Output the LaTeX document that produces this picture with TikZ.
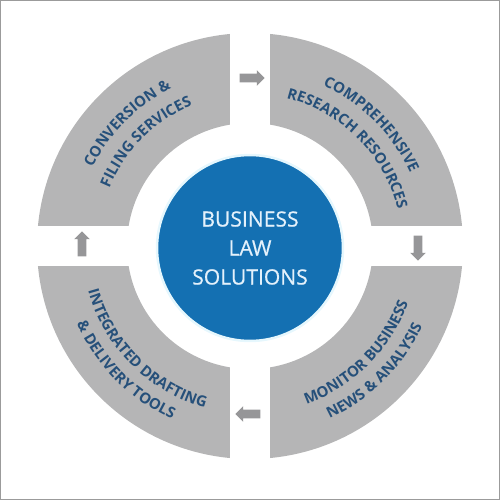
\documentclass[tikz,border=0pt]{standalone}
\usepackage{fontspec}
\setsansfont{Open Sans}
\newfontfamily\hubfont{Open Sans}[FakeBold=0.6]
\usetikzlibrary{decorations.text, shapes.arrows}

\definecolor{lawblue}{RGB}{20,112,178}
\definecolor{hubtext}{RGB}{228,241,251}
\definecolor{ringgray}{RGB}{181,181,182}
\definecolor{arrowgray}{RGB}{150,150,152}
\definecolor{labelblue}{RGB}{38,80,122}
\definecolor{framegray}{RGB}{155,155,155}

\newcommand{\ringfont}{\sffamily\bfseries\fontsize{8.5}{10}\selectfont}

\begin{document}
\begin{tikzpicture}[
  x=0.02cm, y=0.02cm,
  segment/.style={fill=ringgray, draw=none},
  hub/.style={circle, fill=lawblue, draw=cyan!10, line width=0.05cm, minimum size=3.72cm, align=center, text=hubtext, font=\hubfont\fontsize{12}{16.5}\selectfont},
  flow/.style={single arrow, fill=arrowgray, draw=none, minimum height=0.5cm, inner xsep=0pt, inner ysep=0.08cm, single arrow head extend=0.07cm},
  arctext/.style={decorate, decoration={text along path, text align=center, text color=labelblue, text={|\ringfont|#1}}},
]
  \useasboundingbox (-250,-254) rectangle (250,246);
  \draw[framegray, line width=0.03cm] (-249.25,-253.25) rectangle (249.25,245.25);

  % ring segments
  \foreach \a in {0,90,180,270}
    \fill[segment, rotate=\a] (5.39:213) arc[start angle=5.39, end angle=84.61, radius=213]
      -- (80.64:123) arc[start angle=80.64, end angle=9.36, radius=123] -- cycle;

  \node[hub] (core) at (0,-2) {BUSINESS\\LAW\\SOLUTIONS};

  % arrows in the gaps
  \foreach \a/\n in {90/top, 0/right, 270/bottom, 180/left}
    \node[flow, rotate=\a-90] (arrow-\n) at (\a:168) {};

  % labels on the ring
  \path[arctext={CONVERSION {\&}}] (180:176) arc[start angle=180, end angle=90, radius=176];
  \path[arctext={FILING SERVICES}] (180:152) arc[start angle=180, end angle=90, radius=152];
  \path[arctext={COMPREHENSIVE}] (90:176) arc[start angle=90, end angle=0, radius=176];
  \path[arctext={RESEARCH RESOURCES}] (90:152) arc[start angle=90, end angle=0, radius=152];
  \path[arctext={MONITOR BUSINESS}] (270:168) arc[start angle=270, end angle=360, radius=168];
  \path[arctext={NEWS {\&} ANALYSIS}] (270:190) arc[start angle=270, end angle=360, radius=190];
  \path[arctext={INTEGRATED DRAFTING}] (180:168) arc[start angle=180, end angle=270, radius=168];
  \path[arctext={{\&} DELIVERY TOOLS}] (180:190) arc[start angle=180, end angle=270, radius=190];
\end{tikzpicture}
\end{document}
